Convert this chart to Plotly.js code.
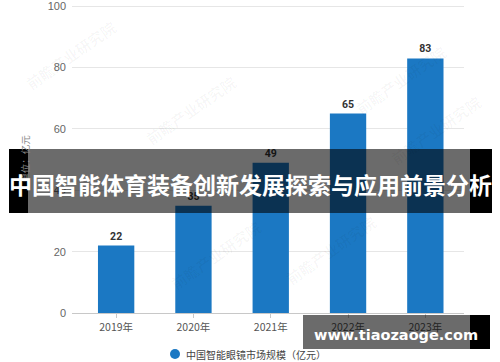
<!DOCTYPE html>
<html>
<head>
<meta charset="utf-8">
<script src="https://cdn.plot.ly/plotly-3.0.1.min.js"></script>
<style>
  html, body { margin: 0; padding: 0; background: #ffffff; }
  #chart { width: 500px; height: 362px; }
</style>
</head>
<body>
<div id="chart"></div>
<script>
// Market size of smart glasses in China, 2019-2023 (unit: 100 million yuan)
const years = ['2019年', '2020年', '2021年', '2022年', '2023年'];
const marketSize = [22, 35, 49, 65, 83];
const seriesName = '中国智能眼镜市场规模（亿元）';
const yTicks = [0, 20, 40, 60, 80, 100];
const headline = '中国智能体育装备创新发展探索与应用前景分析';
const siteName = 'www.tiaozaoge.com';
const watermark = '前瞻产业研究院';

const BAR_BLUE = '#1b78c3';
const W = 500, H = 362;
const M = { l: 72, r: 36, t: 5, b: 49, autoexpand: false };
const plotW = W - M.l - M.r, plotH = H - M.t - M.b;
// pixel -> paper coordinates helpers for overlays
const px = x => (x - M.l) / plotW;
const py = y => (H - M.b - y) / plotH;

const bars = {
  type: 'bar',
  x: years,
  y: marketSize,
  width: 0.47,
  marker: { color: BAR_BLUE },
  text: marketSize.map(String),
  textposition: 'outside',
  cliponaxis: false,
  textfont: { family: 'Roboto, "DejaVu Sans", sans-serif', size: 10.5, color: '#333333', weight: 700 },
  showlegend: false,
  hoverinfo: 'skip'
};

const rect = (x0, x1, y0, y1, fill) => ({
  type: 'rect', xref: 'paper', yref: 'paper', layer: 'above', line: { width: 0 },
  x0: px(x0), x1: px(x1), y0: py(y1), y1: py(y0), fillcolor: fill
});

const shapes = [
  // headline banner
  rect(9, 28, 149, 213, '#000000'),
  rect(28, 470, 149, 213, 'rgba(0,0,0,0.58)'),
  rect(470, 492, 149, 213, '#000000'),
  // site banner
  rect(303, 470, 315, 349, 'rgba(0,0,0,0.58)'),
  rect(470, 490, 315, 349, '#000000'),
  // legend swatch
  { type: 'circle', xref: 'paper', yref: 'paper', layer: 'above', line: { width: 0 },
    x0: px(170), x1: px(180), y0: py(359), y1: py(349), fillcolor: BAR_BLUE }
];

const wm = (x, y) => ({
  xref: 'paper', yref: 'paper', x: px(x), y: py(y), xanchor: 'center', yanchor: 'middle',
  text: watermark, showarrow: false, textangle: -35,
  font: { family: '"Noto Sans CJK SC", sans-serif', size: 15, color: 'rgba(0,0,0,0.035)', weight: 700 }
});

const annotations = [
  wm(70, 55), wm(190, 110), wm(400, 80), wm(435, 130), wm(215, 255), wm(330, 250),
  { xref: 'paper', yref: 'paper', x: px(250), y: py(184), xanchor: 'center', yanchor: 'middle',
    text: headline, showarrow: false,
    font: { family: '"Noto Sans CJK SC", sans-serif', size: 23, color: '#ffffff', weight: 700 } },
  { xref: 'paper', yref: 'paper', x: px(396), y: py(335), xanchor: 'center', yanchor: 'middle',
    text: siteName, showarrow: false,
    font: { family: '"DejaVu Sans", sans-serif', size: 14.5, color: '#ffffff', weight: 700 } },
  { xref: 'paper', yref: 'paper', x: px(184), y: py(354), xanchor: 'left', yanchor: 'middle',
    text: seriesName, showarrow: false,
    font: { family: '"Noto Sans CJK SC", sans-serif', size: 10, color: '#444444' } }
];

const layout = {
  width: W, height: H,
  margin: M,
  paper_bgcolor: '#ffffff',
  plot_bgcolor: '#ffffff',
  font: { family: '"Noto Sans CJK SC", sans-serif', color: '#555555' },
  showlegend: false,
  xaxis: {
    type: 'category',
    range: [-0.571, 4.5],
    showgrid: false,
    showline: true, linecolor: '#c8c8c8', linewidth: 1,
    ticks: 'outside', ticklen: 4, tickcolor: '#c8c8c8',
    tickfont: { family: '"Noto Sans CJK SC", sans-serif', size: 10.5, color: '#555555' },
    automargin: false,
    fixedrange: true
  },
  yaxis: {
    range: [0, 100.4],
    tickvals: yTicks,
    showgrid: true, gridcolor: '#e6e6e6', gridwidth: 1,
    zeroline: false, showline: false, ticks: '',
    ticklabelstandoff: 5,
    tickfont: { family: '"Liberation Sans", Arial, sans-serif', size: 11, color: '#666666' },
    title: { text: '单位：亿元', standoff: 16,
             font: { family: '"Noto Sans CJK SC", sans-serif', size: 9.5, color: '#888888' } },
    automargin: false,
    fixedrange: true
  },
  shapes: shapes,
  annotations: annotations,
  bargap: 0.5
};

Plotly.newPlot('chart', [bars], layout, { staticPlot: true, displayModeBar: false });
</script>
</body>
</html>
